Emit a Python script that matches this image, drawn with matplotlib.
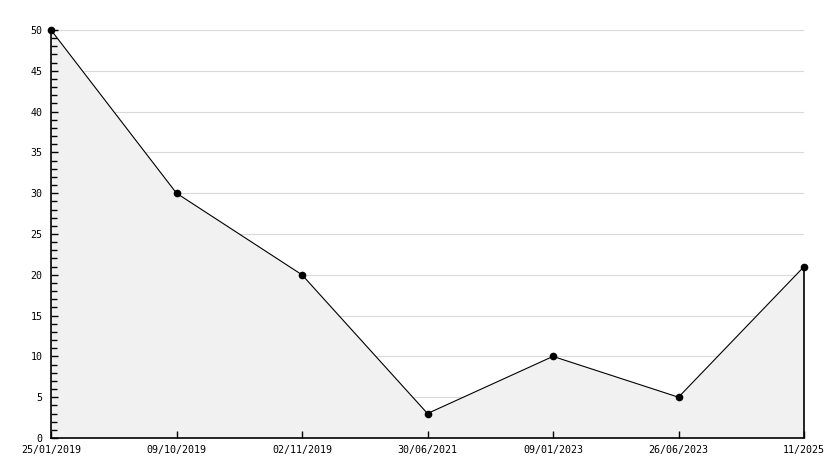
import matplotlib.pyplot as plt
from matplotlib.ticker import MultipleLocator

dates = ['25/01/2019', '09/10/2019', '02/11/2019', '30/06/2021',
         '09/01/2023', '26/06/2023', '11/2025']
values = [50, 30, 20, 3, 10, 5, 21]

plt.rcParams['font.family'] = 'DejaVu Sans Mono'

fig = plt.figure(figsize=(8.34, 4.68), dpi=100)
ax = fig.add_axes([51 / 834, 30 / 468, 753 / 834, 408 / 468])

x = list(range(len(values)))
# grid drawn by hand so the fill can sit on top of it but below the ticks
for y in range(5, 51, 5):
    ax.axhline(y, color='#d9d9d9', lw=0.8, zorder=0.5)
ax.fill_between(x, values, 0, color='#f1f1f1', lw=0, zorder=1)
ax.plot(x, values, color='black', lw=0.8, marker='o', markersize=4.5,
        zorder=4, clip_on=False)
ax.vlines(x[-1], 0, values[-1], color='black', lw=1.2, zorder=3, clip_on=False)

ax.set_xlim(0, len(values) - 1)
ax.set_ylim(0, 50)
ax.set_xticks(x)
ax.set_xticklabels(dates)
ax.yaxis.set_major_locator(MultipleLocator(5))
ax.yaxis.set_minor_locator(MultipleLocator(1))

for s in ['top', 'right']:
    ax.spines[s].set_visible(False)
for s in ['left', 'bottom']:
    ax.spines[s].set_linewidth(1.2)
    ax.spines[s].set_zorder(5)

ax.tick_params(axis='both', which='major', direction='in', length=5, width=1,
               labelsize=7.2, colors='black')
ax.tick_params(axis='y', which='minor', direction='in', length=4, width=1)
ax.tick_params(axis='y', pad=6)
ax.tick_params(axis='x', pad=5)

fig.savefig('out.png', dpi=100)
